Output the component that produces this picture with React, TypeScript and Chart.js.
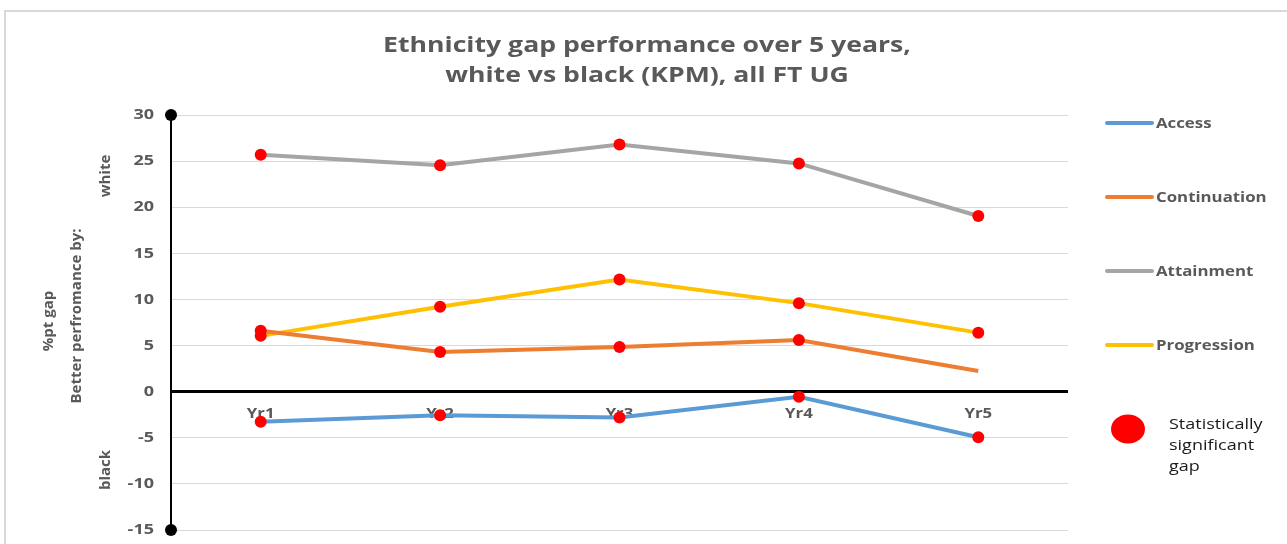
import React, { useEffect, useRef } from "react";
import { Chart, registerables } from "chart.js";

Chart.register(...registerables);

// Academic years
const years = ["Yr1", "Yr2", "Yr3", "Yr4", "Yr5"];

// Percentage-point gap (white minus black) per key performance measure
const access = [-3.25, -2.55, -2.8, -0.55, -4.95];
const continuation = [6.6, 4.3, 4.85, 5.6, 2.25];
const attainment = [25.7, 24.55, 26.8, 24.75, 19.05];
const progression = [6.05, 9.2, 12.15, 9.6, 6.4];

// Whether each year's gap is statistically significant
const accessSig = [true, true, true, true, true];
const continuationSig = [true, true, true, true, false];
const attainmentSig = [true, true, true, true, true];
const progressionSig = [true, true, true, true, true];

const seriesNames = ["Access", "Continuation", "Attainment", "Progression"];
const seriesColors = ["#5B9BD5", "#ED7D31", "#A5A5A5", "#FFC000"];
const seriesValues = [access, continuation, attainment, progression];
const seriesSig = [accessSig, continuationSig, attainmentSig, progressionSig];

const titleLines = ["Ethnicity gap performance over 5 years,", "white vs black (KPM), all FT UG"];
const sigLegendLines = ["Statistically", "significant", "gap"];

const TEXT_GREY = "#595959";
const FONT = "'Open Sans', 'DejaVu Sans', sans-serif";
// horizontal text stretch used for every horizontal label
const SX = 1.2;

function wideText(
  ctx: CanvasRenderingContext2D,
  text: string,
  x: number,
  y: number,
  font: string,
  align: CanvasTextAlign,
  sx = SX
) {
  ctx.save();
  ctx.translate(x, y);
  ctx.scale(sx, 1);
  ctx.font = font;
  ctx.textAlign = align;
  ctx.textBaseline = "middle";
  ctx.fillText(text, 0, 0);
  ctx.restore();
}

const decorPlugin = {
  id: "decor",
  beforeDraw(chart: any) {
    const ctx = chart.ctx;
    ctx.save();
    ctx.fillStyle = "#ffffff";
    ctx.fillRect(0, 0, chart.width, chart.height);
    ctx.strokeStyle = "#d9d9d9";
    ctx.lineWidth = 2;
    ctx.strokeRect(5, 11, chart.width + 50, chart.height + 50);
    ctx.restore();
  },
  beforeDatasetsDraw(chart: any) {
    const ctx = chart.ctx;
    const x = chart.scales.x;
    const y = chart.scales.y;
    ctx.save();
    ctx.fillStyle = TEXT_GREY;
    const bold14 = `bold 14px ${FONT}`;

    // category labels sit just under the zero line
    const yLab = y.getPixelForValue(0) + 22;
    years.forEach((lab, i) => wideText(ctx, lab, x.getPixelForValue(i), yLab, bold14, "center"));

    // value labels of the vertical axis
    const bold15 = `bold 15px ${FONT}`;
    y.ticks.forEach((t: any) =>
      wideText(ctx, String(t.value), chart.chartArea.left - 17, y.getPixelForValue(t.value), bold15, "right")
    );
    ctx.restore();
  },
  afterDraw(chart: any) {
    const ctx = chart.ctx;
    const area = chart.chartArea;
    const y = chart.scales.y;
    ctx.save();

    // vertical axis end caps
    ctx.fillStyle = "#000";
    [y.getPixelForValue(y.max), y.getPixelForValue(y.min)].forEach((py) => {
      ctx.beginPath();
      ctx.arc(area.left, py, 6, 0, Math.PI * 2);
      ctx.fill();
    });

    // title
    ctx.fillStyle = TEXT_GREY;
    titleLines.forEach((t, i) => wideText(ctx, t, 647, 46 + i * 30, `bold 22px ${FONT}`, "center", 1.21));

    // axis titles
    const rot = (text: string, cx: number, cy: number, font: string) => {
      ctx.save();
      ctx.translate(cx, cy);
      ctx.rotate(-Math.PI / 2);
      ctx.font = font;
      ctx.textAlign = "center";
      ctx.textBaseline = "middle";
      ctx.fillText(text, 0, 0);
      ctx.restore();
    };
    const bold15 = `bold 15px ${FONT}`;
    rot("%pt gap", 49, 321, bold15);
    rot("Better perfromance by:", 77, 316, bold15);
    rot("white", 106, 176, bold15);
    rot("black", 106, 470, bold15);

    // series legend
    seriesNames.forEach((name, i) => {
      const ly = 123 + i * 74;
      ctx.strokeStyle = seriesColors[i];
      ctx.lineWidth = 4;
      ctx.lineCap = "round";
      ctx.beginPath();
      ctx.moveTo(1107, ly);
      ctx.lineTo(1152, ly);
      ctx.stroke();
      ctx.fillStyle = TEXT_GREY;
      wideText(ctx, name, 1156, ly + 1, `bold 14px ${FONT}`, "left");
    });

    // significance legend
    ctx.fillStyle = "#ff0000";
    ctx.beginPath();
    ctx.ellipse(1128, 429, 17, 14.5, 0, 0, Math.PI * 2);
    ctx.fill();
    ctx.fillStyle = "#1a1a1a";
    sigLegendLines.forEach((t, i) => wideText(ctx, t, 1169, 425 + i * 21, `15px ${FONT}`, "left"));

    ctx.restore();
  },
};

export default function App() {
  const ref = useRef<HTMLCanvasElement>(null);

  useEffect(() => {
    if (!ref.current) return;

    const lineSets = seriesNames.map((name, i) => ({
      label: name,
      data: seriesValues[i],
      borderColor: seriesColors[i],
      backgroundColor: seriesColors[i],
      borderWidth: 4,
      pointRadius: 0,
      tension: 0,
      order: 1,
    }));
    const sigSets = seriesNames.map((name, i) => ({
      label: name + " significant",
      data: seriesValues[i].map((v, j) => (seriesSig[i][j] ? v : null)),
      showLine: false,
      pointRadius: 6,
      pointBackgroundColor: "#ff0000",
      pointBorderWidth: 0,
      borderColor: "#ff0000",
      order: 0,
    }));

    const chart = new Chart(ref.current, {
      type: "line",
      data: { labels: years, datasets: [...lineSets, ...sigSets] as any },
      options: {
        animation: false,
        responsive: false,
        devicePixelRatio: 1,
        layout: { padding: { left: 111, right: 219, top: 115, bottom: 14 } },
        plugins: { legend: { display: false }, title: { display: false }, tooltip: { enabled: false } },
        scales: {
          x: { display: false, offset: true },
          y: {
            min: -15,
            max: 30,
            afterFit: (s: any) => {
              s.width = 60;
            },
            ticks: { stepSize: 5, display: false },
            grid: {
              drawTicks: false,
              color: (c: any) => (c.tick && c.tick.value === 0 ? "#000000" : "#d9d9d9"),
              lineWidth: (c: any) => (c.tick && c.tick.value === 0 ? 3 : 1),
            },
            border: { display: true, color: "#000000", width: 2 },
          },
        },
      },
      plugins: [decorPlugin],
    });

    return () => chart.destroy();
  }, []);

  return (
    <div style={{ position: "fixed", left: 0, top: 0 }}>
      <canvas ref={ref} width={1287} height={544} />
    </div>
  );
}
